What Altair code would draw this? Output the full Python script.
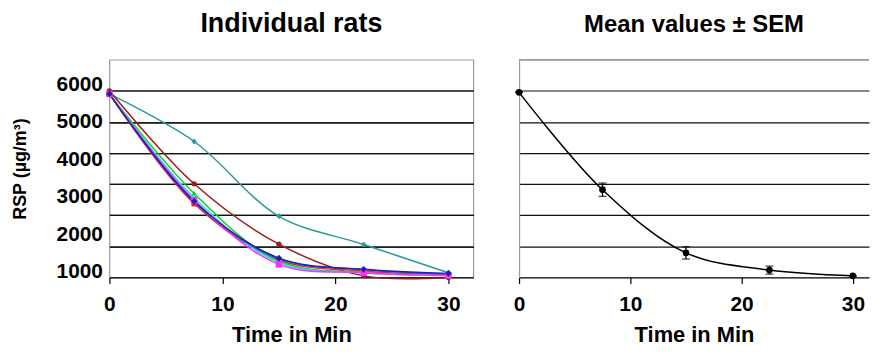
import altair as alt
import pandas as pd

# ---- data ----
times = [0, 7.5, 15, 22.5, 30]

rat_names = ["Rat A", "Rat B", "Rat C", "Rat D", "Rat E", "Rat F", "Rat G", "Rat H"]
rat_a = [5900, 4370, 1965, 1060, 150]   # teal
rat_b = [6000, 3010, 1070, 50, 0]       # dark red
rat_c = [5900, 2370, 560, 200, 90]      # red
rat_d = [5900, 2700, 520, 160, 70]      # green
rat_e = [5900, 2560, 480, 140, 60]      # cyan
rat_f = [5900, 2420, 600, 250, 110]     # blue
rat_g = [5900, 2480, 420, 150, 60]      # magenta
rat_h = [5900, 2450, 620, 260, 130]     # navy
rat_series = [rat_a, rat_b, rat_c, rat_d, rat_e, rat_f, rat_g, rat_h]

rat_colors = ["#2a9a9a", "#9b1c1c", "#ff2020", "#10d010", "#20e0f0", "#3050ff", "#ff30ff", "#2020a0"]
rat_shapes = ["cross", "circle", "square", "triangle-up", "circle", "diamond", "square", "diamond"]
rat_sizes = [25, 45, 20, 20, 15, 20, 25, 25]

mean_values = [5950, 2820, 790, 235, 50]
sem_values = [0, 215, 200, 130, 0]

y_max = 7000
grid_values = [1000, 2000, 3000, 4000, 5000, 6000]
y_tick_labels = [1000, 2000, 3000, 4000, 5000, 6000]
x_ticks = [0, 10, 20, 30]

FONT = "Liberation Sans"
BORDER = "#9a9a9a"

rows = []
for name, vals in zip(rat_names, rat_series):
    for t, v in zip(times, vals):
        rows.append({"rat": name, "time": t, "rsp": v})
rats_df = pd.DataFrame(rows)

mean_df = pd.DataFrame({
    "time": times,
    "mean": mean_values,
    "lo": [m - s for m, s in zip(mean_values, sem_values)],
    "hi": [m + s for m, s in zip(mean_values, sem_values)],
})
label_df = pd.DataFrame({"tick": y_tick_labels})

x_axis = alt.Axis(values=x_ticks, title="Time in Min", grid=False, domainColor="black",
                  domainWidth=1.2, tickColor="black", tickSize=6, tickWidth=1.2,
                  labelFont=FONT, labelFontSize=21, labelFontWeight="bold", labelColor="black",
                  labelPadding=10, labelFlush=False,
                  titleFont=FONT, titleFontSize=22, titleFontWeight="bold", titleColor="black",
                  titlePadding=10)

grid_axis = alt.Axis(values=grid_values, grid=True, gridColor="#111111", gridWidth=1.2,
                     labels=False, ticks=False, domain=False, title=None, orient="left")
grid_axis_r = alt.Axis(values=grid_values, grid=True, gridColor="#111111", gridWidth=1.2,
                       labels=False, ticks=False, domain=True, domainColor=BORDER,
                       domainWidth=1.2, title=None, orient="left")

y_scale = alt.Scale(domain=[0, y_max], nice=False, zero=False)

color_scale = alt.Scale(domain=rat_names, range=rat_colors)
shape_scale = alt.Scale(domain=rat_names, range=rat_shapes)
size_scale = alt.Scale(domain=rat_names, range=rat_sizes)

# ---------- left panel ----------
xl = alt.X("time:Q", scale=alt.Scale(domain=[0, 32.2], nice=False), axis=x_axis)

base_l = alt.Chart(rats_df)
lines_l = base_l.mark_line(interpolate="catmull-rom", strokeWidth=1.5).encode(
    x=xl,
    y=alt.Y("rsp:Q", scale=y_scale, axis=grid_axis),
    color=alt.Color("rat:N", scale=color_scale, legend=None),
    detail="rat:N",
)
points_l = base_l.mark_point(filled=True, opacity=1).encode(
    x=xl,
    y=alt.Y("rsp:Q", scale=y_scale, axis=grid_axis),
    color=alt.Color("rat:N", scale=color_scale, legend=None),
    shape=alt.Shape("rat:N", scale=shape_scale, legend=None),
    size=alt.Size("rat:N", scale=size_scale, legend=None),
)
labels_l = alt.Chart(label_df).mark_point(opacity=0).encode(
    y=alt.Y("tick:Q", scale=alt.Scale(domain=[840, 6664], nice=False, zero=False),
            axis=alt.Axis(values=y_tick_labels, grid=False, ticks=False, domain=False,
                          orient="left", format="d",
                          labelFont=FONT, labelFontSize=21, labelFontWeight="bold",
                          labelColor="black", labelPadding=7,
                          title="RSP (µg/m³)", titleFont=FONT, titleFontSize=18,
                          titleFontWeight="bold", titleColor="black", titlePadding=27)),
)

left = alt.layer(lines_l, points_l, labels_l).resolve_scale(y="independent").properties(
    width=366, height=219,
    view=alt.ViewBackground(stroke=BORDER, strokeWidth=1.2),
    title=alt.TitleParams("Individual rats", font=FONT, fontSize=27, fontWeight="bold",
                          color="black", anchor="middle", frame="group", offset=22),
)

# ---------- right panel ----------
xr = alt.X("time:Q", scale=alt.Scale(domain=[0, 31.45], nice=False), axis=x_axis)
base_r = alt.Chart(mean_df)
top_border = alt.Chart(mean_df).mark_rule(color=BORDER, strokeWidth=1.2).encode(
    y=alt.Y(datum=y_max, scale=y_scale, axis=grid_axis_r),
)
line_r = base_r.mark_line(interpolate="catmull-rom", color="black", strokeWidth=1.5).encode(
    x=xr, y=alt.Y("mean:Q", scale=y_scale, axis=grid_axis_r),
)
rule_r = base_r.mark_rule(color="black", strokeWidth=1.3).encode(
    x=xr, y=alt.Y("lo:Q", scale=y_scale, axis=grid_axis_r), y2="hi:Q",
)
tick_lo = base_r.mark_tick(color="black", orient="horizontal", size=8, thickness=1.3).encode(
    x=xr, y=alt.Y("lo:Q", scale=y_scale, axis=grid_axis_r),
)
tick_hi = base_r.mark_tick(color="black", orient="horizontal", size=8, thickness=1.3).encode(
    x=xr, y=alt.Y("hi:Q", scale=y_scale, axis=grid_axis_r),
)
pts_r = base_r.mark_point(filled=True, color="black", size=45, opacity=1).encode(
    x=xr, y=alt.Y("mean:Q", scale=y_scale, axis=grid_axis_r),
)
right = alt.layer(line_r, top_border, rule_r, tick_lo, tick_hi, pts_r).properties(
    width=352, height=219,
    view=alt.ViewBackground(stroke="transparent"),
    title=alt.TitleParams("Mean values ± SEM", font=FONT, fontSize=24, fontWeight="bold",
                          color="black", anchor="middle", frame="group", offset=22),
)

chart = alt.hconcat(left, right, spacing=38).properties(
    padding={"left": 2, "top": 0, "right": 0, "bottom": 0},
).configure(font=FONT)

chart.save("out.html", embed_options={"renderer": "svg", "actions": False})
